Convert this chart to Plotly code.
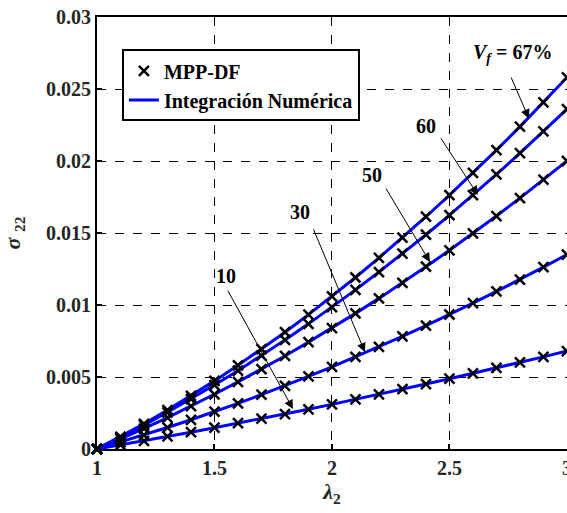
import plotly.graph_objects as go

lam = [1.0, 1.1, 1.2, 1.3, 1.4, 1.5, 1.6, 1.7, 1.8, 1.9, 2.0,
       2.1, 2.2, 2.3, 2.4, 2.5, 2.6, 2.7, 2.8, 2.9, 3.0]

vf67 = [0, 0.00085, 0.00175, 0.0027, 0.00369, 0.00473, 0.00581, 0.00694, 0.00811, 0.00933, 0.0106,
        0.01191, 0.01327, 0.01468, 0.01613, 0.01763, 0.01917, 0.02076, 0.02239, 0.02407, 0.0258]
vf60 = [0, 0.00081, 0.00166, 0.00255, 0.00347, 0.00444, 0.00544, 0.00649, 0.00757, 0.00869, 0.00985,
        0.01105, 0.01229, 0.01357, 0.01488, 0.01624, 0.01763, 0.01907, 0.02054, 0.02205, 0.0236]
vf50 = [0, 0.0007, 0.00142, 0.00218, 0.00298, 0.0038, 0.00466, 0.00554, 0.00646, 0.00742, 0.0084,
        0.00942, 0.01046, 0.01154, 0.01266, 0.0138, 0.01498, 0.01618, 0.01742, 0.0187, 0.02]
vf30 = [0, 0.00048, 0.00097, 0.00149, 0.00203, 0.00259, 0.00317, 0.00377, 0.00439, 0.00504, 0.0057,
        0.00639, 0.00709, 0.00782, 0.00857, 0.00934, 0.01013, 0.01094, 0.01177, 0.01263, 0.0135]
vf10 = [0, 0.00028, 0.00057, 0.00087, 0.00117, 0.00148, 0.00179, 0.00211, 0.00243, 0.00276, 0.0031,
        0.00344, 0.00379, 0.00415, 0.00451, 0.00488, 0.00525, 0.00563, 0.00601, 0.0064, 0.0068]

series = [vf67, vf60, vf50, vf30, vf10]

x_ticks = [1, 1.5, 2, 2.5, 3]
x_tick_text = ["1", "1.5", "2", "2.5", "3"]
y_ticks = [0, 0.005, 0.01, 0.015, 0.02, 0.025, 0.03]
y_tick_text = ["0", "0.005", "0.01", "0.015", "0.02", "0.025", "0.03"]

# labels: (text, text_x, text_y, tail_x, tail_y, head_x, head_y)
labels = [
    ("<i>V</i><sub><i>f</i></sub> = 67%", 2.768, 0.02745, 2.760, 0.02590, 2.838, 0.02296),
    ("60", 2.400, 0.02243, 2.460, 0.02167, 2.621, 0.01764),
    ("50", 2.170, 0.01903, 2.226, 0.01819, 2.417, 0.01299),
    ("30", 1.864, 0.01646, 1.919, 0.01535, 2.140, 0.00674),
    ("10", 1.549, 0.01201, 1.553, 0.01111, 1.834, 0.00278),
]

FONT = "Liberation Serif"
fig = go.Figure()

for i, s in enumerate(series):
    fig.add_trace(go.Scatter(
        x=lam, y=s, mode="lines", line=dict(color="#0000FF", width=3),
        name="Integración Numérica", showlegend=(i == 0), legendrank=2,
        cliponaxis=True))
for i, s in enumerate(series):
    fig.add_trace(go.Scatter(
        x=lam, y=s, mode="markers",
        marker=dict(symbol="x-thin", size=10, line=dict(color="black", width=2.5)),
        name="MPP-DF", showlegend=(i == 0), legendrank=1, cliponaxis=False))

annotations = []
for txt, tx, ty, ax, ay, hx, hy in labels:
    annotations.append(dict(x=tx, y=ty, xref="x", yref="y", text="<b>" + txt + "</b>",
                            showarrow=False, font=dict(family=FONT, size=20, color="black")))
    annotations.append(dict(x=hx, y=hy, ax=ax, ay=ay, xref="x", yref="y", axref="x", ayref="y",
                            text="", showarrow=True, arrowhead=2, arrowsize=1.8, arrowwidth=1,
                            arrowcolor="black"))

axis_common = dict(
    showline=True, linecolor="black", linewidth=2, mirror=True,
    showgrid=True, gridcolor="black", gridwidth=1, griddash="dash",
    ticks="inside", ticklen=5, tickcolor="black", tickwidth=1.5,
    zeroline=False,
    tickfont=dict(family=FONT, size=20, color="#262626", weight="bold"),
    automargin=False,
    ticklabeloverflow="allow",
)

fig.update_layout(
    width=567, height=513,
    margin=dict(l=97, r=0, t=17, b=64),
    paper_bgcolor="white", plot_bgcolor="white",
    xaxis=dict(range=[1, 3.0003], tickvals=x_ticks, ticktext=x_tick_text,
               title=dict(text="<b><i>λ</i><sub>2</sub></b>", standoff=6,
                          font=dict(family=FONT, size=22, color="#262626")),
               **axis_common),
    yaxis=dict(range=[0, 0.03], tickvals=y_ticks, ticktext=y_tick_text,
               title=dict(text="<b><i>σ</i> <sub>22</sub></b>", standoff=20,
                          font=dict(family=FONT, size=22, color="#262626")),
               **axis_common),
    legend=dict(x=0.053, y=0.925, xanchor="left", yanchor="top",
                bgcolor="white", bordercolor="black", borderwidth=2,
                font=dict(family=FONT, size=20, color="black", weight="bold"),
                tracegroupgap=0, itemwidth=30),
    annotations=annotations,
    showlegend=True,
)

fig.write_html("out.html")
